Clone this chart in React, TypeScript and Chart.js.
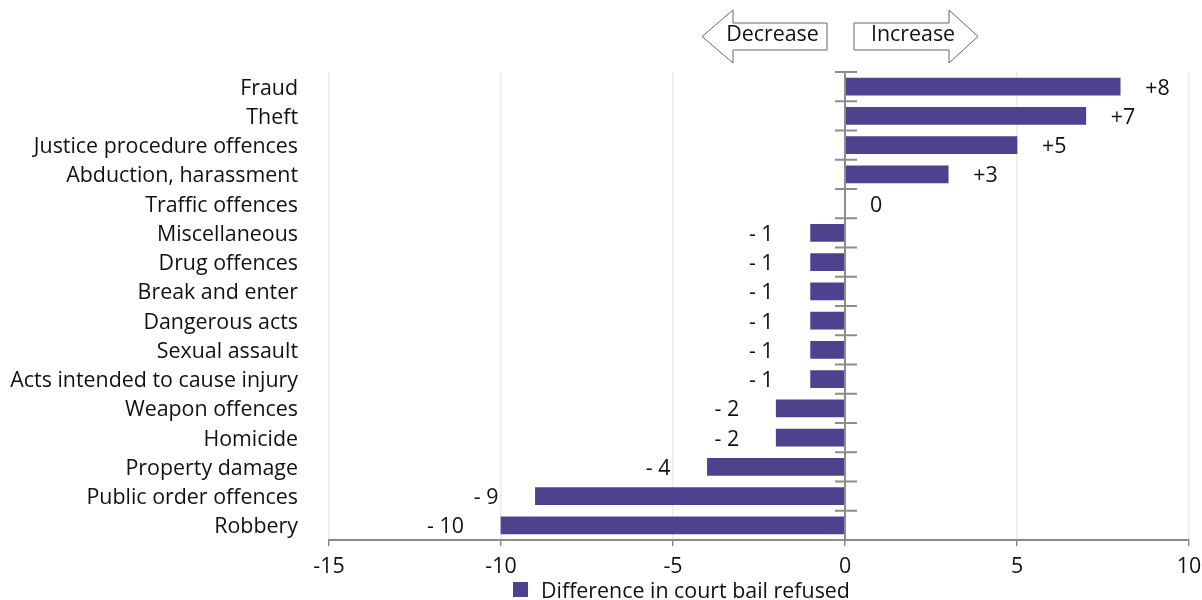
import React, { useEffect, useRef } from "react";
import { Chart, registerables } from "chart.js";

Chart.register(...registerables);

const categories = [
  "Fraud",
  "Theft",
  "Justice procedure offences",
  "Abduction, harassment",
  "Traffic offences",
  "Miscellaneous",
  "Drug offences",
  "Break and enter",
  "Dangerous acts",
  "Sexual assault",
  "Acts intended to cause injury",
  "Weapon offences",
  "Homicide",
  "Property damage",
  "Public order offences",
  "Robbery",
];
const values = [8, 7, 5, 3, 0, -1, -1, -1, -1, -1, -1, -2, -2, -4, -9, -10];
const seriesName = "Difference in court bail refused";
const xTicks = [-15, -10, -5, 0, 5, 10];
const arrowLabels = ["Decrease", "Increase"];

const FONT = "'Open Sans', 'Noto Sans', sans-serif";
const FS = 21.4;
const BAR = "#50418f";
const AXIS = "#8c8c8c";
const TEXT = "#111";

const fmt = (v: number) => (v > 0 ? "+" + v : v < 0 ? "- " + Math.abs(v) : "0");

const overlay = {
  id: "overlay",
  afterDatasetsDraw(chart: any) {
    const { ctx, chartArea, scales } = chart;
    const x = scales.x;
    const y = scales.y;
    const x0 = x.getPixelForValue(0);
    ctx.save();
    // zero axis line with ticks at category boundaries
    ctx.strokeStyle = AXIS;
    ctx.lineWidth = 2;
    ctx.beginPath();
    ctx.moveTo(x0, chartArea.top);
    ctx.lineTo(x0, chartArea.bottom);
    ctx.stroke();
    const n = categories.length;
    const bounds: number[] = [chartArea.top];
    for (let i = 0; i < n - 1; i++) {
      bounds.push((y.getPixelForValue(i) + y.getPixelForValue(i + 1)) / 2);
    }
    bounds.push(chartArea.bottom);
    ctx.beginPath();
    for (const b of bounds) {
      ctx.moveTo(x0 - 10, b);
      ctx.lineTo(x0 + 12, b);
    }
    ctx.stroke();

    // data labels
    ctx.fillStyle = TEXT;
    ctx.font = FS + "px " + FONT;
    ctx.textBaseline = "middle";
    values.forEach((v, i) => {
      const py = y.getPixelForValue(i) + 2;
      const px = x.getPixelForValue(v);
      if (v >= 0) {
        ctx.textAlign = "left";
        ctx.fillText(fmt(v), px + 25, py);
      } else {
        ctx.textAlign = "right";
        ctx.fillText(fmt(v), px - 37, py);
      }
    });

    // arrows
    const drawArrow = (bodyEnd: number, base: number, tip: number, textX: number, label: string) => {
      ctx.beginPath();
      ctx.moveTo(bodyEnd, 23);
      ctx.lineTo(base, 23);
      ctx.lineTo(base, 10);
      ctx.lineTo(tip, 36.5);
      ctx.lineTo(base, 63);
      ctx.lineTo(base, 50);
      ctx.lineTo(bodyEnd, 50);
      ctx.closePath();
      ctx.fillStyle = "#fff";
      ctx.fill();
      ctx.strokeStyle = "#666";
      ctx.lineWidth = 1;
      ctx.stroke();
      ctx.fillStyle = TEXT;
      ctx.textAlign = "center";
      ctx.textBaseline = "middle";
      ctx.font = FS + "px " + FONT;
      ctx.fillText(label, textX, 35);
    };
    drawArrow(827, 733, 702, 772.5, arrowLabels[0]);
    drawArrow(854, 949, 978, 913, arrowLabels[1]);

    // legend
    ctx.fillStyle = BAR;
    ctx.fillRect(513, 582, 15, 15);
    ctx.fillStyle = TEXT;
    ctx.textAlign = "left";
    ctx.textBaseline = "middle";
    ctx.font = FS + "px " + FONT;
    ctx.fillText(seriesName, 541, 592);
    ctx.restore();
  },
};

export default function App() {
  const ref = useRef<HTMLCanvasElement | null>(null);
  useEffect(() => {
    document.body.style.margin = "0";
    const chart = new Chart(ref.current as HTMLCanvasElement, {
      type: "bar",
      data: {
        labels: categories,
        datasets: [
          {
            label: seriesName,
            data: values,
            backgroundColor: BAR,
            borderWidth: 0,
            barThickness: 17,
          },
        ],
      },
      options: {
        indexAxis: "y",
        animation: false,
        responsive: false,
        maintainAspectRatio: false,
        layout: { padding: { top: 72, right: 0, left: 0, bottom: 0 } },
        scales: {
          x: {
            min: -15,
            max: 10,
            afterBuildTicks: (s: any) => {
              s.ticks = xTicks.map((v) => ({ value: v }));
            },
            afterFit: (s: any) => {
              s.height = 60;
              s.paddingRight = 13;
            },
            grid: {
              color: "#ebebeb",
              lineWidth: 1.5,
              tickColor: AXIS,
              tickLength: 6,
              drawTicks: true,
            },
            border: { color: AXIS, width: 2 },
            ticks: {
              color: TEXT,
              font: { family: FONT, size: FS },
              padding: 8,
              maxRotation: 0,
            },
          },
          y: {
            afterFit: (s: any) => {
              s.width = 329;
            },
            grid: { display: false, drawTicks: false },
            border: { display: false },
            ticks: {
              color: TEXT,
              font: { family: FONT, size: FS },
              padding: 31,
              labelOffset: 2,
              autoSkip: false,
            },
          },
        },
        plugins: {
          legend: { display: false },
          tooltip: { enabled: false },
        },
      },
      plugins: [overlay],
    } as any);
    return () => chart.destroy();
  }, []);
  return (
    <div style={{ position: "absolute", left: 0, top: 0, width: 1202, height: 600 }}>
      <canvas ref={ref} width={1202} height={600} style={{ width: 1202, height: 600 }} />
    </div>
  );
}
